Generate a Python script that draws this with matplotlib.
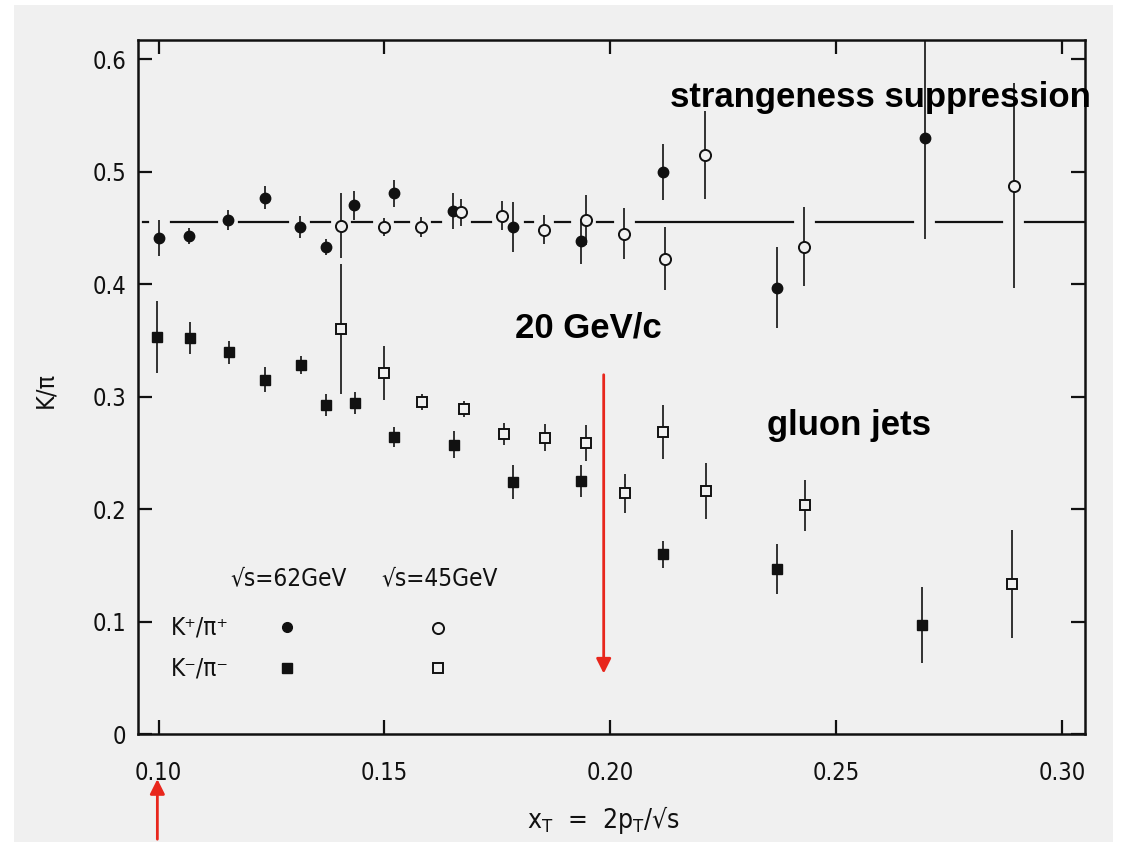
import matplotlib
matplotlib.use("Agg")
import matplotlib.pyplot as plt
from matplotlib.patches import Rectangle, FancyArrowPatch


# === data ===

ref_level = 0.455  # horizontal reference line

# K+/pi+ at sqrt(s) = 62 GeV (filled circles)
kp62_x = [0.1002, 0.1068, 0.1154, 0.1236, 0.1312, 0.1371, 0.1433, 0.1520, 0.1651,
          0.1785, 0.1935, 0.2117, 0.2368, 0.2695]
kp62_y = [0.441, 0.443, 0.457, 0.477, 0.451, 0.433, 0.470, 0.481, 0.465,
          0.451, 0.438, 0.500, 0.397, 0.530]
kp62_err = [0.016, 0.007, 0.009, 0.010, 0.010, 0.007, 0.013, 0.012, 0.016,
            0.022, 0.020, 0.025, 0.036, 0.090]

# K+/pi+ at sqrt(s) = 45 GeV (open circles)
kp45_x = [0.1404, 0.1498, 0.1580, 0.1669, 0.1761, 0.1853, 0.1946, 0.2031, 0.2120,
          0.2210, 0.2429, 0.2892]
kp45_y = [0.452, 0.451, 0.451, 0.464, 0.461, 0.4485, 0.457, 0.445, 0.4225,
          0.5145, 0.4334, 0.4876]
kp45_err = [0.029, 0.008, 0.009, 0.012, 0.0125, 0.013, 0.022, 0.023, 0.028,
            0.039, 0.035, 0.091]

# K-/pi- at sqrt(s) = 62 GeV (filled squares)
km62_x = [0.0996, 0.1070, 0.1156, 0.1236, 0.1315, 0.1370, 0.1434, 0.1520, 0.1654,
          0.1784, 0.1935, 0.2117, 0.2368, 0.2690]
km62_y = [0.353, 0.352, 0.3395, 0.315, 0.328, 0.2925, 0.2946, 0.264, 0.2575,
          0.2244, 0.225, 0.160, 0.147, 0.097]
km62_err = [0.032, 0.014, 0.010, 0.011, 0.008, 0.010, 0.010, 0.009, 0.012,
            0.015, 0.014, 0.012, 0.022, 0.034]

# K-/pi- at sqrt(s) = 45 GeV (open squares)
km45_x = [0.1404, 0.1498, 0.1583, 0.1675, 0.1765, 0.1856, 0.1946, 0.2033, 0.2117,
          0.2212, 0.2431, 0.2889]
km45_y = [0.360, 0.321, 0.295, 0.289, 0.267, 0.2635, 0.259, 0.214, 0.269,
          0.216, 0.2034, 0.134]
km45_err = [0.058, 0.024, 0.007, 0.007, 0.010, 0.012, 0.016, 0.017, 0.024,
            0.025, 0.023, 0.048]

x_ticks = [0.10, 0.15, 0.20, 0.25, 0.30]
x_labels = ["0.10", "0.15", "0.20", "0.25", "0.30"]
y_ticks = [0, 0.1, 0.2, 0.3, 0.4, 0.5, 0.6]
y_labels = ["0", "0.1", "0.2", "0.3", "0.4", "0.5", "0.6"]

XMIN, XMAX = 0.0954, 0.3050
YMIN, YMAX = 0.0, 0.617

# plotter-like narrow font for the scanned part
scan_font = dict(family="DejaVu Sans", fontstretch="condensed", color="#111111")
ink = "#111111"
paper = "#f0f0f0"


# === figure ===

fig = plt.figure(figsize=(11.28, 8.42), dpi=100)
fig.patch.set_facecolor("white")
# greyish paper of the scan
fig.patches.append(Rectangle((0.012, 0.0), 0.975, 0.994, transform=fig.transFigure,
                             facecolor=paper, edgecolor="none", zorder=-10))

ax = fig.add_axes([0.1221, 0.1279, 0.8398, 0.8246])
ax.set_facecolor("none")
ax.set_xlim(XMIN, XMAX)
ax.set_ylim(YMIN, YMAX)

# reference line, broken where an error bar crosses it
all_x = kp62_x + kp45_x
all_lo = [y - e for y, e in zip(kp62_y + kp45_y, kp62_err + kp45_err)]
all_hi = [y + e for y, e in zip(kp62_y + kp45_y, kp62_err + kp45_err)]
gaps = sorted(x for x, lo, hi in zip(all_x, all_lo, all_hi) if lo <= ref_level <= hi)
half = 0.0025
start = 0.0966
for g in gaps:
    if g - half > start:
        ax.plot([start, g - half], [ref_level, ref_level], color=ink, lw=1.6, zorder=1)
    start = max(start, g + half)
ax.plot([start, XMAX], [ref_level, ref_level], color=ink, lw=1.6, zorder=1)

eb = dict(linestyle="none", ecolor=ink, elinewidth=1.2, capsize=0, zorder=3)
ax.errorbar(kp62_x, kp62_y, yerr=kp62_err, marker="o", ms=7.5, mfc=ink, mec=ink, **eb)
ax.errorbar(kp45_x, kp45_y, yerr=kp45_err, marker="o", ms=8, mfc=paper, mec=ink,
            mew=1.4, **eb)
ax.errorbar(km62_x, km62_y, yerr=km62_err, marker="s", ms=7.5, mfc=ink, mec=ink, **eb)
ax.errorbar(km45_x, km45_y, yerr=km45_err, marker="s", ms=7.5, mfc=paper, mec=ink,
            mew=1.4, **eb)

# axes frame and ticks
for s in ax.spines.values():
    s.set_linewidth(1.8)
    s.set_color(ink)
ax.set_xticks(x_ticks)
ax.set_xticklabels(x_labels, **scan_font, fontsize=17)
ax.set_yticks(y_ticks)
ax.set_yticklabels(y_labels, **scan_font, fontsize=17)
ax.tick_params(direction="in", length=10, width=1.6, color=ink,
               top=True, right=True)
ax.tick_params(axis="x", pad=19)
ax.tick_params(axis="y", pad=8)

# axis titles
fig.text(0.535, 0.026, r"x$_\mathregular{T}$  =  2p$_\mathregular{T}$/√s", ha="center",
         va="center", fontsize=19, **scan_font)
fig.text(0.040, 0.537, "K/π", rotation=90, ha="center", va="center", fontsize=18,
         **scan_font)

# legend drawn like the original (inside the frame)
tr = ax.transAxes
ax.text(0.1587, 0.2251, "√s=62GeV", transform=tr, ha="center", va="center",
        fontsize=17.5, **scan_font)
ax.text(0.3190, 0.2251, "√s=45GeV", transform=tr, ha="center", va="center",
        fontsize=17.5, **scan_font)
ax.text(0.0657, 0.1545, "K⁺/π⁺", transform=tr, ha="center", va="center",
        fontsize=17.5, **scan_font)
ax.text(0.0657, 0.0955, "K⁻/π⁻", transform=tr, ha="center", va="center",
        fontsize=17.5, **scan_font)
ax.plot([0.1576], [0.1545], "o", ms=7, color=ink, transform=tr, clip_on=False)
ax.plot([0.3170], [0.1530], "o", ms=8, mfc="none", mec=ink, mew=1.4, transform=tr,
        clip_on=False)
ax.plot([0.1576], [0.0955], "s", ms=7.5, color=ink, transform=tr, clip_on=False)
ax.plot([0.3170], [0.0955], "s", ms=7.5, mfc="none", mec=ink, mew=1.4, transform=tr,
        clip_on=False)

# overlaid slide annotations
bold = dict(family="Liberation Sans", fontweight="bold", color="black")
fig.text(0.594, 0.884, "strangeness suppression", ha="left", va="center",
         fontsize=25, **bold)
fig.text(0.4565, 0.610, "20 GeV/c", ha="left", va="center", fontsize=25, **bold)
fig.text(0.680, 0.495, "gluon jets", ha="left", va="center", fontsize=25, **bold)

red = "#e8261c"
ax.annotate("", xy=(0.1985, 0.0515), xytext=(0.1985, 0.322),
            arrowprops=dict(arrowstyle="-|>", color=red, lw=2, mutation_scale=22))
fig.patches.append(FancyArrowPatch((0.1395, 0.0), (0.1395, 0.078),
                                   transform=fig.transFigure, arrowstyle="-|>",
                                   color=red, lw=2, mutation_scale=22))

plt.savefig("out.png", dpi=100)
